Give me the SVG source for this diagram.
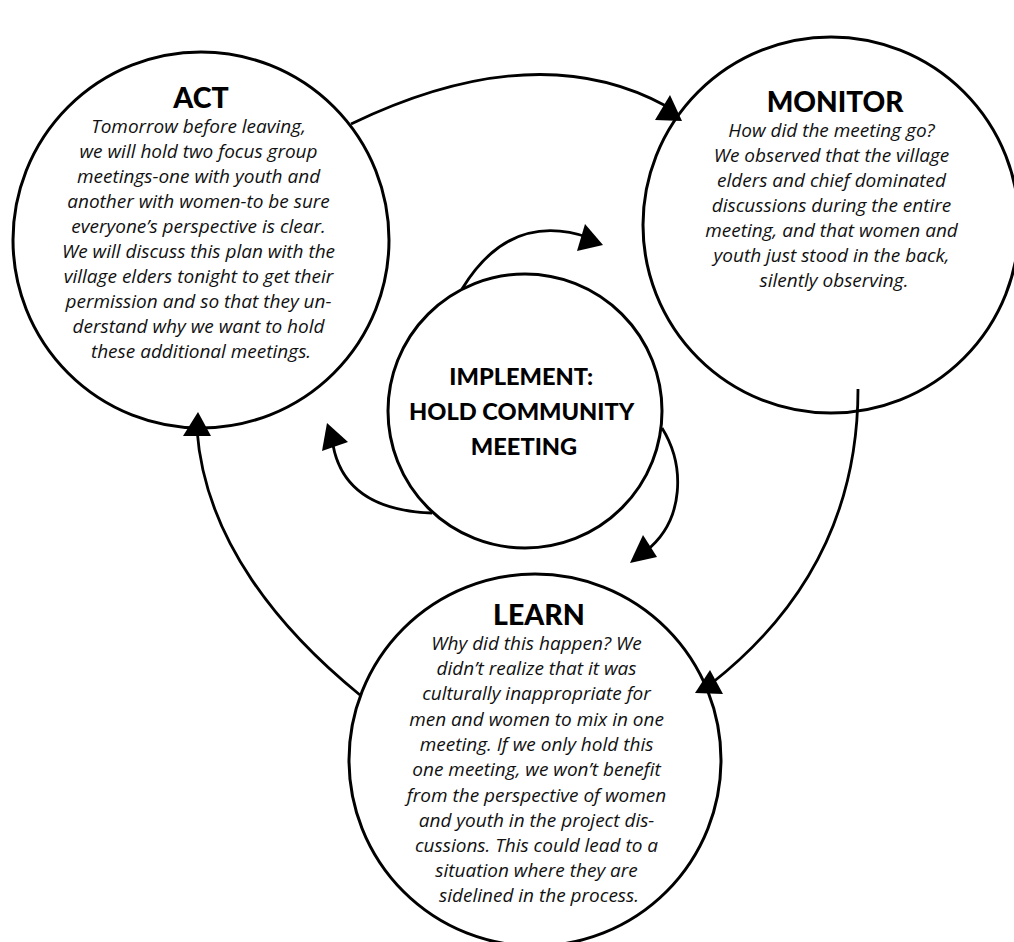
<svg xmlns="http://www.w3.org/2000/svg" width="1014" height="942" viewBox="0 0 1014 942">
<style>
.node{fill:#fff;stroke:#000;stroke-width:3}
.title{font-family:Lato,"Noto Sans",sans-serif;font-weight:900;fill:#000;text-anchor:middle}
.body{font-family:"Open Sans","Noto Sans",sans-serif;font-style:italic;font-size:19px;fill:#111;text-anchor:middle}
.conn{fill:none;stroke:#000;stroke-width:2.8}
.head{fill:#000;stroke:none}
</style>
<rect width="1014" height="942" fill="#fff"/>
<g id="act">
<circle class="node" cx="201" cy="240" r="188"/>
<text class="title" x="201" y="108" font-size="28.5">ACT</text>
<text class="body">
<tspan x="201" y="133">Tomorrow before leaving,</tspan>
<tspan x="201" y="158">we will hold two focus group</tspan>
<tspan x="201" y="183">meetings-one with youth and</tspan>
<tspan x="201" y="208">another with women-to be sure</tspan>
<tspan x="201" y="233">everyone’s perspective is clear.</tspan>
<tspan x="201" y="258">We will discuss this plan with the</tspan>
<tspan x="201" y="283">village elders tonight to get their</tspan>
<tspan x="201" y="308">permission and so that they un-</tspan>
<tspan x="201" y="333">derstand why we want to hold</tspan>
<tspan x="201" y="358">these additional meetings.</tspan>
</text>
</g>
<g id="monitor">
<circle class="node" cx="831" cy="225" r="188"/>
<text class="title" x="835" y="112" font-size="28">MONITOR</text>
<text class="body">
<tspan x="834" y="137">How did the meeting go?</tspan>
<tspan x="834" y="162">We observed that the village</tspan>
<tspan x="834" y="187">elders and chief dominated</tspan>
<tspan x="834" y="212">discussions during the entire</tspan>
<tspan x="834" y="237">meeting, and that women and</tspan>
<tspan x="834" y="262">youth just stood in the back,</tspan>
<tspan x="834" y="287">silently observing.</tspan>
</text>
</g>
<g id="learn">
<circle class="node" cx="535" cy="760" r="186"/>
<text class="title" x="539" y="625" font-size="28.5">LEARN</text>
<text class="body">
<tspan x="539" y="650">Why did this happen? We</tspan>
<tspan x="539" y="675">didn’t realize that it was</tspan>
<tspan x="539" y="700">culturally inappropriate for</tspan>
<tspan x="539" y="726">men and women to mix in one</tspan>
<tspan x="539" y="751">meeting. If we only hold this</tspan>
<tspan x="539" y="776">one meeting, we won’t benefit</tspan>
<tspan x="539" y="802">from the perspective of women</tspan>
<tspan x="539" y="827">and youth in the project dis-</tspan>
<tspan x="539" y="852">cussions. This could lead to a</tspan>
<tspan x="539" y="877">situation where they are</tspan>
<tspan x="539" y="902">sidelined in the process.</tspan>
</text>
</g>
<g id="implement">
<circle class="node" cx="525" cy="411" r="137"/>
<text class="title" font-size="23.6">
<tspan x="524" y="385">IMPLEMENT:</tspan>
<tspan x="524" y="420">HOLD COMMUNITY</tspan>
<tspan x="524" y="455">MEETING</tspan>
</text>
</g>
<g id="connectors">
<path class="conn" d="M351 124 Q536 35 666 106"/>
<polygon class="head" points="670,95 655,120 682,121"/>
<path class="conn" d="M858 389 C858 480 830 590 712 683"/>
<polygon class="head" points="710,670 695,693 723,694"/>
<path class="conn" d="M360 695 C280 630 205 540 197 430"/>
<polygon class="head" points="198,412 183,436 211,436"/>
<path class="conn" d="M462 289 Q510 210 590 238"/>
<polygon class="head" points="603,245 585,224 577,251"/>
<path class="conn" d="M432 513 Q345 510 333 445"/>
<polygon class="head" points="327,423 322,451 348,442"/>
<path class="conn" d="M662 428 C685 465 685 520 646 551"/>
<polygon class="head" points="630,563 643,535 657,557"/>
</g>
</svg>
